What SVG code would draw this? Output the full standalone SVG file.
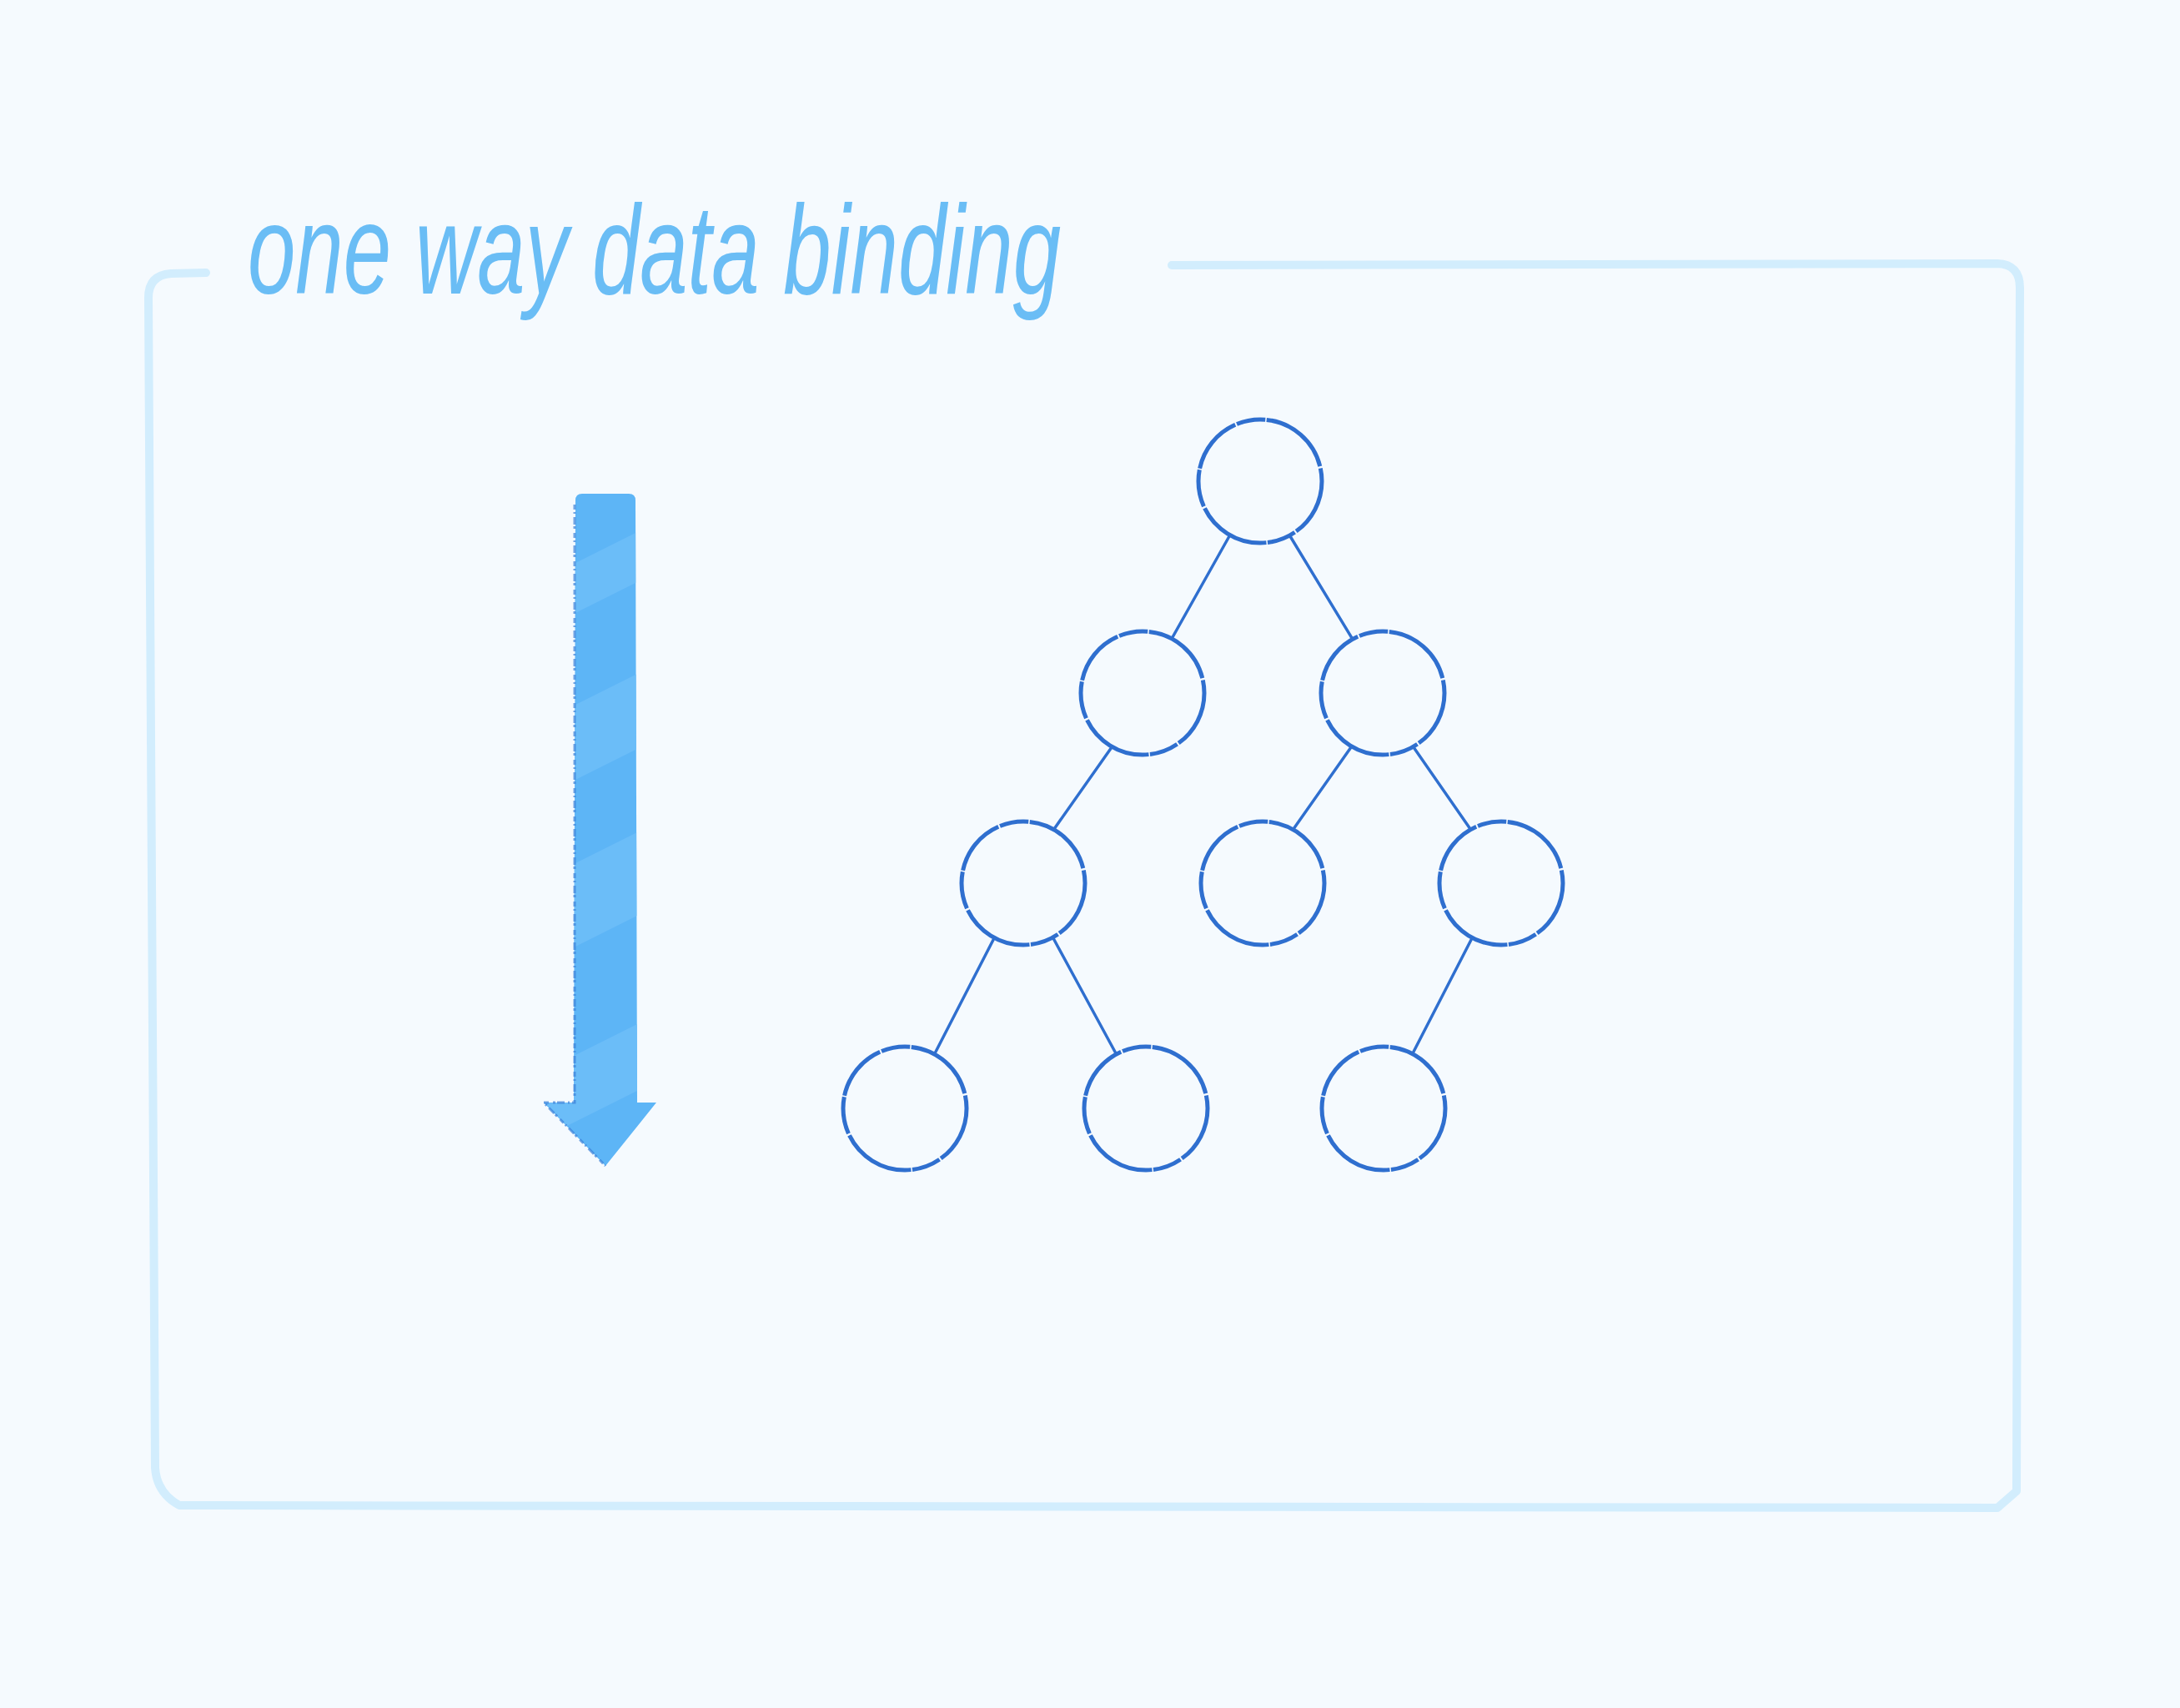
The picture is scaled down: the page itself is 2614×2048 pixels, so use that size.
<svg xmlns="http://www.w3.org/2000/svg" width="2614" height="2048" viewBox="0 0 2614 2048">
  <defs>
    <style>
      .frame { fill: none; stroke: #d2edfd; stroke-width: 10; stroke-linecap: round; stroke-linejoin: round; }
      .node { fill: none; stroke: #2f6fcf; stroke-width: 5; stroke-dasharray: 70 2 35 1.5 90 2.5 45 1.5; }
      .edge { stroke: #2f6fcf; stroke-width: 3.5; stroke-linecap: round; }
      .title { font-family: "Liberation Sans", "DejaVu Sans", sans-serif; font-style: italic; font-size: 152px; fill: #6abdf5; }
    </style>
    <clipPath id="arrowClip">
      <path d="M690,600 Q690,592 698,592 L754,592 Q762,592 762,600 L764,1322 L787,1322 L726,1398 L652,1322 L688,1322 Z"/>
    </clipPath>
  </defs>

  <rect x="0" y="0" width="2614" height="2048" fill="#f5fafe"/>

  <g id="frame">
    <path class="frame" d="M247,327 L205,328 Q178,330 178,357 L186,1760 Q188,1790 215,1805 L2395,1808 L2418,1788 L2422,345 Q2422,317 2395,316 L1405,318"/>
  </g>

  <g id="title">
    <text class="title" x="297" y="352" textLength="975" lengthAdjust="spacingAndGlyphs">one way data binding</text>
  </g>

  <g id="arrow">
    <g clip-path="url(#arrowClip)">
      <rect x="640" y="580" width="160" height="830" fill="#5db5f6"/>
      <path d="M640,700 L800,620 L800,680 L640,760 Z" fill="#6bbdf8"/>
      <path d="M640,870 L800,790 L800,880 L640,960 Z" fill="#6bbdf8"/>
      <path d="M640,1060 L800,980 L800,1080 L640,1160 Z" fill="#6bbdf8"/>
      <path d="M640,1290 L800,1210 L800,1290 L640,1370 Z" fill="#6bbdf8"/>
    </g>
    <path d="M689,605 L689,1322 L652,1322 L726,1398" fill="none" stroke="#3b80d8" stroke-width="3" stroke-dasharray="6 3 2 4 9 2 3 5" opacity="0.7"/>
  </g>

  <g id="connectors">
    <line class="edge" x1="1474" y1="643" x2="1406" y2="764"/>
    <line class="edge" x1="1547" y1="643" x2="1621" y2="765"/>
    <line class="edge" x1="1333" y1="896" x2="1264" y2="994"/>
    <line class="edge" x1="1620" y1="896" x2="1551" y2="994"/>
    <line class="edge" x1="1695" y1="896" x2="1763" y2="994"/>
    <line class="edge" x1="1192" y1="1125" x2="1121" y2="1263"/>
    <line class="edge" x1="1263" y1="1125" x2="1338" y2="1263"/>
    <line class="edge" x1="1765" y1="1125" x2="1694" y2="1263"/>
  </g>

  <g id="n-root"><circle class="node" cx="1511" cy="577" r="74"/></g>
  <g id="n-l2a"><circle class="node" cx="1370" cy="831" r="74"/></g>
  <g id="n-l2b"><circle class="node" cx="1658" cy="831" r="74"/></g>
  <g id="n-l3a"><circle class="node" cx="1227" cy="1059" r="74"/></g>
  <g id="n-l3b"><circle class="node" cx="1514" cy="1059" r="74"/></g>
  <g id="n-l3c"><circle class="node" cx="1800" cy="1059" r="74"/></g>
  <g id="n-l4a"><circle class="node" cx="1085" cy="1329" r="74"/></g>
  <g id="n-l4b"><circle class="node" cx="1374" cy="1329" r="74"/></g>
  <g id="n-l4c"><circle class="node" cx="1659" cy="1329" r="74"/></g>
</svg>
